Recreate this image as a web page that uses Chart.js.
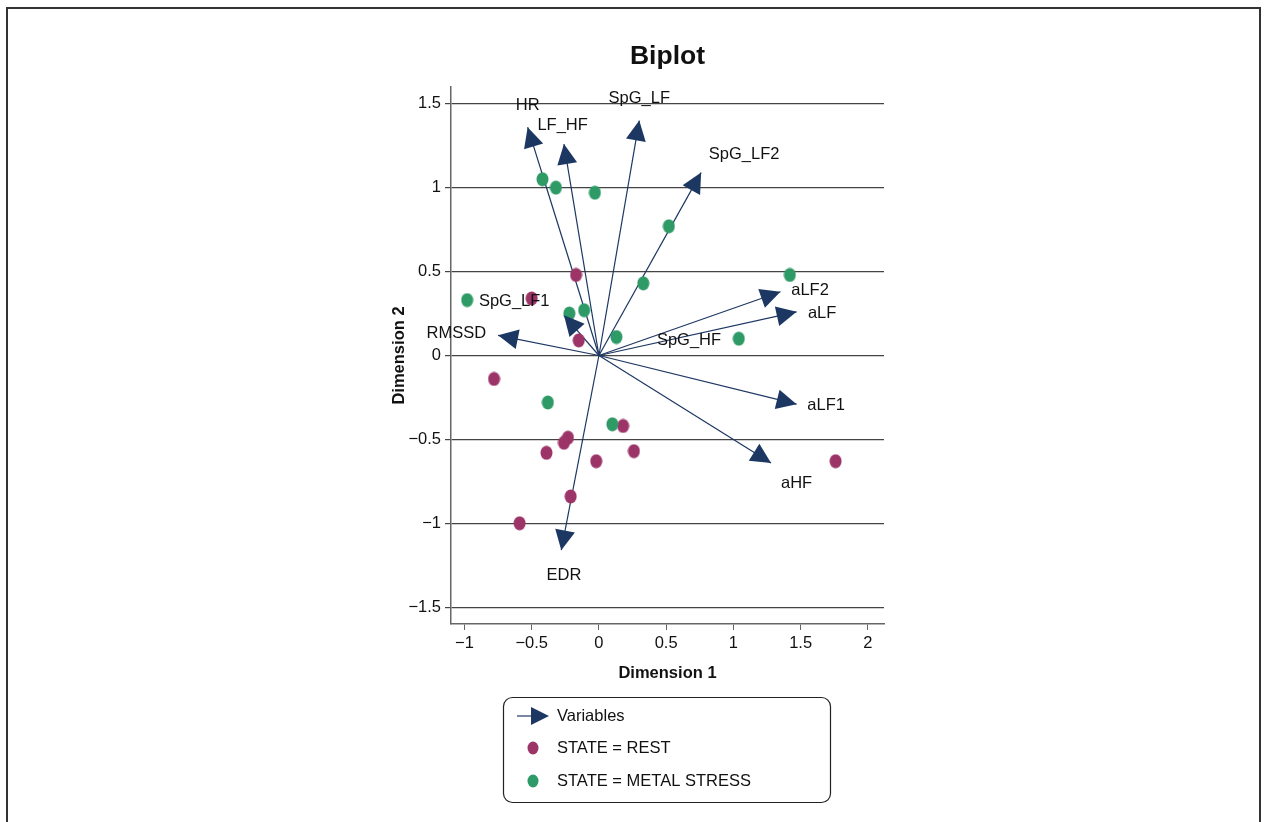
<!DOCTYPE html>
<html>
<head>
<meta charset="utf-8">
<script src="https://cdn.jsdelivr.net/npm/chart.js@4.4.1/dist/chart.umd.min.js"></script>
<style>
html, body { margin: 0; padding: 0; background: #fff; }
canvas { display: block; }
</style>
</head>
<body>
<canvas id="biplot" width="1264" height="822"></canvas>
<script>
// observations, STATE = REST
const restX = [-0.17, -0.50, -0.15, -0.78, 0.18, -0.23, -0.26, -0.39, -0.02, 0.26, 1.76, -0.21, -0.59];
const restY = [0.48, 0.34, 0.09, -0.14, -0.42, -0.49, -0.52, -0.58, -0.63, -0.57, -0.63, -0.84, -1.00];

// observations, STATE = METAL STRESS
const stressX = [-0.42, -0.32, -0.03, 0.52, 1.42, 0.33, -0.98, -0.11, -0.22, 0.13, 1.04, -0.38, 0.10];
const stressY = [1.05, 1.00, 0.97, 0.77, 0.48, 0.43, 0.33, 0.27, 0.25, 0.11, 0.10, -0.28, -0.41];

// variable loadings (arrow tips) and where their labels sit
const varNames = ["HR", "LF_HF", "SpG_LF", "SpG_LF2", "aLF2", "aLF", "SpG_LF1", "RMSSD", "SpG_HF", "aLF1", "aHF", "EDR"];
const varX = [-0.53, -0.26, 0.30, 0.76, 1.35, 1.47, -0.26, -0.75, null, 1.47, 1.28, -0.28];
const varY = [1.36, 1.26, 1.40, 1.09, 0.38, 0.26, 0.24, 0.12, null, -0.29, -0.64, -1.16];
const labelX = [-0.53, -0.27, 0.30, 1.08, 1.57, 1.66, -0.63, -1.06, 0.67, 1.69, 1.47, -0.26];
const labelY = [1.49, 1.37, 1.53, 1.20, 0.39, 0.25, 0.32, 0.13, 0.09, -0.30, -0.76, -1.31];

const xTicks = [-1, -0.5, 0, 0.5, 1, 1.5, 2];
const yTicks = [-1.5, -1, -0.5, 0, 0.5, 1, 1.5];

const restColor = "#9c3468";
const stressColor = "#2e9a66";
const navy = "#1d3763";
const font = '"Liberation Sans", Arial, sans-serif';

function minus(v) {
    return String(v).replace("-", "\u2212");
}

function points(xs, ys) {
    return xs.map((x, i) => ({ x: x, y: ys[i] }));
}

// markers are slightly taller than wide
function dot(color) {
    let c = document.createElement("canvas");
    c.width = 13;
    c.height = 15;
    let g = c.getContext("2d");
    g.fillStyle = color;
    g.beginPath();
    g.ellipse(6.5, 7.5, 6, 7, 0, 0, Math.PI * 2);
    g.fill();
    return c;
}

let datasets = [];
varNames.forEach((name, i) => {
    if (varX[i] === null) return;
    datasets.push({
        label: name,
        data: [{ x: 0, y: 0 }, { x: varX[i], y: varY[i] }],
        showLine: true,
        borderColor: navy,
        borderWidth: 1.2,
        pointRadius: 0,
        order: 3
    });
});
datasets.push({
    label: "STATE = REST",
    data: points(restX, restY),
    pointStyle: dot(restColor),
    backgroundColor: restColor,
    pointRadius: 7,
    order: 2
});
datasets.push({
    label: "STATE = METAL STRESS",
    data: points(stressX, stressY),
    pointStyle: dot(stressColor),
    backgroundColor: stressColor,
    pointRadius: 7,
    order: 1
});

function triangle(ctx, x0, y0, x1, y1, len, half) {
    let a = Math.atan2(y1 - y0, x1 - x0);
    let bx = x1 - len * Math.cos(a), by = y1 - len * Math.sin(a);
    ctx.beginPath();
    ctx.moveTo(x1, y1);
    ctx.lineTo(bx + half * Math.sin(a), by - half * Math.cos(a));
    ctx.lineTo(bx - half * Math.sin(a), by + half * Math.cos(a));
    ctx.closePath();
    ctx.fill();
}

// arrow heads, variable names, title, frame and legend
const biplotDecor = {
    id: "biplotDecor",
    afterDatasetsDraw(chart) {
        let ctx = chart.ctx;
        let sx = chart.scales.x, sy = chart.scales.y;
        let ox = sx.getPixelForValue(0), oy = sy.getPixelForValue(0);
        ctx.save();
        ctx.fillStyle = navy;
        varNames.forEach((name, i) => {
            if (varX[i] === null) return;
            triangle(ctx, ox, oy, sx.getPixelForValue(varX[i]), sy.getPixelForValue(varY[i]), 20, 10);
        });
        ctx.fillStyle = "#111";
        ctx.font = "16.5px " + font;
        ctx.textAlign = "center";
        ctx.textBaseline = "middle";
        varNames.forEach((name, i) => {
            ctx.fillText(name, sx.getPixelForValue(labelX[i]), sy.getPixelForValue(labelY[i]));
        });
        ctx.restore();
    },
    afterDraw(chart) {
        let ctx = chart.ctx;
        let area = chart.chartArea;
        ctx.save();

        // outer frame
        ctx.strokeStyle = "#333";
        ctx.lineWidth = 2;
        ctx.beginPath();
        ctx.moveTo(7, 822);
        ctx.lineTo(7, 8);
        ctx.lineTo(1260, 8);
        ctx.lineTo(1260, 822);
        ctx.stroke();

        // title
        ctx.fillStyle = "#111";
        ctx.font = "bold 26.5px " + font;
        ctx.textAlign = "center";
        ctx.textBaseline = "middle";
        ctx.fillText("Biplot", (area.left + area.right) / 2, 57);

        // legend box
        let lx = 503, ly = 697, lw = 327, lh = 105;
        ctx.strokeStyle = "#222";
        ctx.lineWidth = 1.2;
        ctx.beginPath();
        ctx.roundRect(lx + 0.5, ly + 0.5, lw, lh, 9);
        ctx.stroke();

        ctx.strokeStyle = navy;
        ctx.fillStyle = navy;
        ctx.lineWidth = 1.2;
        ctx.beginPath();
        ctx.moveTo(517, 716);
        ctx.lineTo(540, 716);
        ctx.stroke();
        triangle(ctx, 517, 716, 549, 716, 18, 9);

        ctx.fillStyle = restColor;
        ctx.beginPath();
        ctx.ellipse(533, 748, 5.5, 6.5, 0, 0, Math.PI * 2);
        ctx.fill();
        ctx.fillStyle = stressColor;
        ctx.beginPath();
        ctx.ellipse(533, 781, 5.5, 6.5, 0, 0, Math.PI * 2);
        ctx.fill();

        ctx.fillStyle = "#111";
        ctx.font = "16.5px " + font;
        ctx.textAlign = "left";
        ctx.fillText("Variables", 557, 716);
        ctx.fillText("STATE = REST", 557, 748);
        ctx.fillText("STATE = METAL STRESS", 557, 781);
        ctx.restore();
    }
};

new Chart(document.getElementById("biplot"), {
    type: "scatter",
    data: { datasets: datasets },
    options: {
        responsive: false,
        animation: false,
        layout: { padding: { left: 390, right: 380, top: 87, bottom: 139 } },
        plugins: {
            legend: { display: false },
            tooltip: { enabled: false }
        },
        scales: {
            x: {
                type: "linear",
                min: -1.1,
                max: 2.12,
                afterBuildTicks: s => { s.ticks = xTicks.map(v => ({ value: v })); },
                afterFit: s => { s.height = 59; },
                ticks: {
                    callback: v => minus(v),
                    color: "#111",
                    font: { family: font, size: 16.5 },
                    padding: 4,
                    maxRotation: 0
                },
                grid: { drawOnChartArea: false, drawTicks: true, tickLength: 6, color: "#666" },
                border: { color: "#666", width: 1.5 },
                title: {
                    display: true,
                    text: "Dimension 1",
                    color: "#111",
                    font: { family: font, size: 16.5, weight: "bold" },
                    padding: 0
                }
            },
            y: {
                type: "linear",
                min: -1.6,
                max: 1.6,
                afterBuildTicks: s => { s.ticks = yTicks.map(v => ({ value: v })); },
                afterFit: s => { s.width = 61; },
                ticks: {
                    callback: v => minus(v),
                    color: "#111",
                    font: { family: font, size: 16.5 },
                    padding: 4
                },
                grid: { drawTicks: true, tickLength: 6, color: "#444", lineWidth: 1.2 },
                border: { color: "#666", width: 1.5 },
                title: {
                    display: true,
                    text: "Dimension 2",
                    color: "#111",
                    font: { family: font, size: 16.5, weight: "bold" },
                    padding: 0
                }
            }
        }
    },
    plugins: [biplotDecor]
});
</script>
</body>
</html>
